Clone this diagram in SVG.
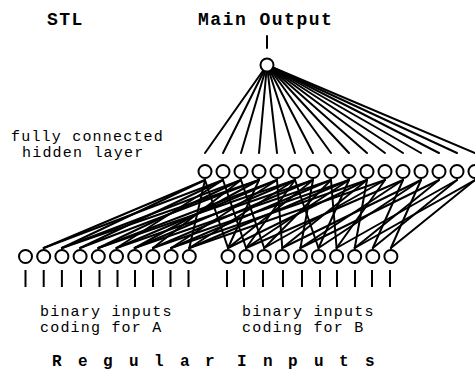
<svg xmlns="http://www.w3.org/2000/svg" width="475" height="381" viewBox="0 0 475 381">
<style>
.n{fill:#fff;stroke:#000;stroke-width:2}
.c line{stroke:#000;stroke-width:2;stroke-linecap:round}
.t{stroke:#000;stroke-width:2}
.lb{font-family:"Liberation Mono",monospace;font-weight:bold;font-size:18px;letter-spacing:1.5px;fill:#000}
.tx{font-family:"Liberation Mono",monospace;font-size:15px;letter-spacing:1.2px;fill:#000}
.ri{font-family:"Liberation Mono",monospace;font-weight:bold;font-size:16px;fill:#000}
</style>
<rect width="475" height="381" fill="#fff"/>
<text class="lb" x="47" y="25">STL</text>
<text class="lb" x="198" y="25">Main Output</text>
<text class="tx" x="11" y="141">fully connected</text>
<text class="tx" x="22" y="157">hidden layer</text>
<text class="tx" x="40" y="316">binary inputs</text>
<text class="tx" x="40" y="332">coding for A</text>
<text class="tx" x="242" y="316">binary inputs</text>
<text class="tx" x="242" y="332">coding for B</text>
<text class="ri" x="52 78 103 129 154 180 205 221 237 263 288 314 339 365" y="366">Regular Inputs</text>
<g id="connectors" class="c">
<line x1="267" y1="36" x2="267" y2="48"/>
<line x1="267" y1="65" x2="205" y2="153"/>
<line x1="267" y1="65" x2="223" y2="153"/>
<line x1="267" y1="65" x2="241" y2="153"/>
<line x1="267" y1="65" x2="259" y2="153"/>
<line x1="267" y1="65" x2="277" y2="153"/>
<line x1="267" y1="65" x2="295" y2="153"/>
<line x1="267" y1="65" x2="313" y2="153"/>
<line x1="267" y1="65" x2="331" y2="153"/>
<line x1="267" y1="65" x2="349" y2="153"/>
<line x1="267" y1="65" x2="367" y2="153"/>
<line x1="267" y1="65" x2="385" y2="153"/>
<line x1="267" y1="65" x2="403" y2="153"/>
<line x1="267" y1="65" x2="421" y2="153"/>
<line x1="267" y1="65" x2="439" y2="153"/>
<line x1="267" y1="65" x2="457" y2="153"/>
<line x1="267" y1="65" x2="475" y2="153"/>
<line x1="43.7" y1="248" x2="205" y2="180"/>
<line x1="43.7" y1="248" x2="223" y2="180"/>
<line x1="61.9" y1="248" x2="205" y2="180"/>
<line x1="61.9" y1="248" x2="241" y2="180"/>
<line x1="61.9" y1="248" x2="259" y2="180"/>
<line x1="80.1" y1="248" x2="223" y2="180"/>
<line x1="80.1" y1="248" x2="259" y2="180"/>
<line x1="98.3" y1="248" x2="241" y2="180"/>
<line x1="98.3" y1="248" x2="277" y2="180"/>
<line x1="98.3" y1="248" x2="295" y2="180"/>
<line x1="116.5" y1="248" x2="223" y2="180"/>
<line x1="116.5" y1="248" x2="277" y2="180"/>
<line x1="116.5" y1="248" x2="313" y2="180"/>
<line x1="134.7" y1="248" x2="259" y2="180"/>
<line x1="134.7" y1="248" x2="295" y2="180"/>
<line x1="134.7" y1="248" x2="331" y2="180"/>
<line x1="152.9" y1="248" x2="241" y2="180"/>
<line x1="152.9" y1="248" x2="313" y2="180"/>
<line x1="152.9" y1="248" x2="349" y2="180"/>
<line x1="171.1" y1="248" x2="277" y2="180"/>
<line x1="171.1" y1="248" x2="331" y2="180"/>
<line x1="171.1" y1="248" x2="367" y2="180"/>
<line x1="189.3" y1="248" x2="205" y2="180"/>
<line x1="189.3" y1="248" x2="295" y2="180"/>
<line x1="189.3" y1="248" x2="349" y2="180"/>
<line x1="189.3" y1="248" x2="385" y2="180"/>
<line x1="228" y1="248" x2="205" y2="180"/>
<line x1="228" y1="248" x2="259" y2="180"/>
<line x1="228" y1="248" x2="313" y2="180"/>
<line x1="228" y1="248" x2="367" y2="180"/>
<line x1="246.1" y1="248" x2="223" y2="180"/>
<line x1="246.1" y1="248" x2="295" y2="180"/>
<line x1="246.1" y1="248" x2="349" y2="180"/>
<line x1="246.1" y1="248" x2="403" y2="180"/>
<line x1="264.2" y1="248" x2="241" y2="180"/>
<line x1="264.2" y1="248" x2="331" y2="180"/>
<line x1="264.2" y1="248" x2="385" y2="180"/>
<line x1="282.3" y1="248" x2="277" y2="180"/>
<line x1="282.3" y1="248" x2="367" y2="180"/>
<line x1="282.3" y1="248" x2="421" y2="180"/>
<line x1="300.4" y1="248" x2="313" y2="180"/>
<line x1="300.4" y1="248" x2="403" y2="180"/>
<line x1="300.4" y1="248" x2="439" y2="180"/>
<line x1="318.5" y1="248" x2="295" y2="180"/>
<line x1="318.5" y1="248" x2="349" y2="180"/>
<line x1="318.5" y1="248" x2="421" y2="180"/>
<line x1="336.6" y1="248" x2="331" y2="180"/>
<line x1="336.6" y1="248" x2="385" y2="180"/>
<line x1="336.6" y1="248" x2="457" y2="180"/>
<line x1="354.7" y1="248" x2="367" y2="180"/>
<line x1="354.7" y1="248" x2="439" y2="180"/>
<line x1="354.7" y1="248" x2="475" y2="180"/>
<line x1="372.8" y1="248" x2="403" y2="180"/>
<line x1="372.8" y1="248" x2="457" y2="180"/>
<line x1="390.9" y1="248" x2="421" y2="180"/>
<line x1="390.9" y1="248" x2="475" y2="180"/>
</g>
<g id="output"><circle class="n" cx="267" cy="65" r="6.5"/></g>
<g id="hidden">
<g id="h0"><circle class="n" cx="205" cy="171.5" r="6.5"/></g>
<g id="h1"><circle class="n" cx="223" cy="171.5" r="6.5"/></g>
<g id="h2"><circle class="n" cx="241" cy="171.5" r="6.5"/></g>
<g id="h3"><circle class="n" cx="259" cy="171.5" r="6.5"/></g>
<g id="h4"><circle class="n" cx="277" cy="171.5" r="6.5"/></g>
<g id="h5"><circle class="n" cx="295" cy="171.5" r="6.5"/></g>
<g id="h6"><circle class="n" cx="313" cy="171.5" r="6.5"/></g>
<g id="h7"><circle class="n" cx="331" cy="171.5" r="6.5"/></g>
<g id="h8"><circle class="n" cx="349" cy="171.5" r="6.5"/></g>
<g id="h9"><circle class="n" cx="367" cy="171.5" r="6.5"/></g>
<g id="h10"><circle class="n" cx="385" cy="171.5" r="6.5"/></g>
<g id="h11"><circle class="n" cx="403" cy="171.5" r="6.5"/></g>
<g id="h12"><circle class="n" cx="421" cy="171.5" r="6.5"/></g>
<g id="h13"><circle class="n" cx="439" cy="171.5" r="6.5"/></g>
<g id="h14"><circle class="n" cx="457" cy="171.5" r="6.5"/></g>
<g id="h15"><circle class="n" cx="475" cy="171.5" r="6.5"/></g>
</g>
<g id="inputsA">
<g id="a0"><circle class="n" cx="25.5" cy="256.5" r="6.5"/><line class="t" x1="25.5" y1="270" x2="25.5" y2="287"/></g>
<g id="a1"><circle class="n" cx="43.7" cy="256.5" r="6.5"/><line class="t" x1="43.7" y1="270" x2="43.7" y2="287"/></g>
<g id="a2"><circle class="n" cx="61.9" cy="256.5" r="6.5"/><line class="t" x1="61.9" y1="270" x2="61.9" y2="287"/></g>
<g id="a3"><circle class="n" cx="80.1" cy="256.5" r="6.5"/><line class="t" x1="81" y1="270" x2="81" y2="287"/></g>
<g id="a4"><circle class="n" cx="98.3" cy="256.5" r="6.5"/><line class="t" x1="99.5" y1="270" x2="99.5" y2="287"/></g>
<g id="a5"><circle class="n" cx="116.5" cy="256.5" r="6.5"/><line class="t" x1="117.5" y1="270" x2="117.5" y2="287"/></g>
<g id="a6"><circle class="n" cx="134.7" cy="256.5" r="6.5"/><line class="t" x1="135" y1="270" x2="135" y2="287"/></g>
<g id="a7"><circle class="n" cx="152.9" cy="256.5" r="6.5"/><line class="t" x1="153" y1="270" x2="153" y2="287"/></g>
<g id="a8"><circle class="n" cx="171.1" cy="256.5" r="6.5"/><line class="t" x1="170.5" y1="270" x2="170.5" y2="287"/></g>
<g id="a9"><circle class="n" cx="189.3" cy="256.5" r="6.5"/><line class="t" x1="188.5" y1="270" x2="188.5" y2="287"/></g>
</g>
<g id="inputsB">
<g id="b0"><circle class="n" cx="228" cy="256.5" r="6.5"/><line class="t" x1="227" y1="270" x2="227" y2="287"/></g>
<g id="b1"><circle class="n" cx="246.1" cy="256.5" r="6.5"/><line class="t" x1="244" y1="270" x2="244" y2="287"/></g>
<g id="b2"><circle class="n" cx="264.2" cy="256.5" r="6.5"/><line class="t" x1="263" y1="270" x2="263" y2="287"/></g>
<g id="b3"><circle class="n" cx="282.3" cy="256.5" r="6.5"/><line class="t" x1="283" y1="270" x2="283" y2="287"/></g>
<g id="b4"><circle class="n" cx="300.4" cy="256.5" r="6.5"/><line class="t" x1="302" y1="270" x2="302" y2="287"/></g>
<g id="b5"><circle class="n" cx="318.5" cy="256.5" r="6.5"/><line class="t" x1="320" y1="270" x2="320" y2="287"/></g>
<g id="b6"><circle class="n" cx="336.6" cy="256.5" r="6.5"/><line class="t" x1="337" y1="270" x2="337" y2="287"/></g>
<g id="b7"><circle class="n" cx="354.7" cy="256.5" r="6.5"/><line class="t" x1="355" y1="270" x2="355" y2="287"/></g>
<g id="b8"><circle class="n" cx="372.8" cy="256.5" r="6.5"/><line class="t" x1="372" y1="270" x2="372" y2="287"/></g>
<g id="b9"><circle class="n" cx="390.9" cy="256.5" r="6.5"/><line class="t" x1="390" y1="270" x2="390" y2="287"/></g>
</g>
</svg>
